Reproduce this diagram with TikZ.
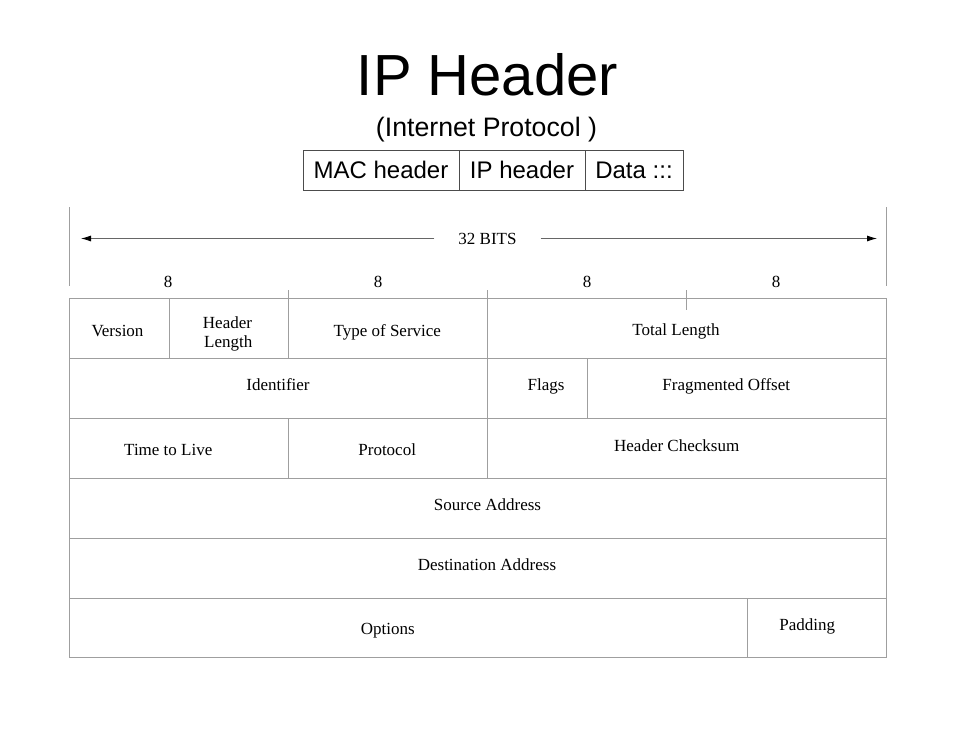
\documentclass[tikz,border=0pt]{standalone}
\usepackage{fontspec}
\setmainfont{Liberation Serif}
\setsansfont{Liberation Sans}
\usepackage{tikz}
\usetikzlibrary{arrows.meta, positioning}

\begin{document}
\begin{tikzpicture}[
                x=1pt, y=-1pt,
                cellline/.style={draw=gray!75, line width=1pt},
                field/.style={anchor=base, inner sep=0pt, font=\fontsize{17}{19}\selectfont},
                frame/.style={rectangle, draw=black!70, line width=1pt, inner sep=0pt, minimum height=40pt, font=\sffamily\fontsize{24}{26}\selectfont},
                bitarrow/.style={-{Latex[length=10pt, width=6pt, black]}, draw=black!60, line width=0.8pt},
                bitlabel/.style={font=\fontsize{17}{19}\selectfont}
                ]
                \useasboundingbox (0,0) rectangle (975,731);

                % Titel
                \node[anchor=base, font=\sffamily\fontsize{58}{62}\selectfont] (title) at (487.5,95) {IP Header};
                \node[anchor=base, font=\sffamily\fontsize{26.7}{29}\selectfont] (subtitle) at (486.5,136) {(Internet Protocol )};

                % Rahmen: MAC / IP / Data
                \node[frame, minimum width=156pt] (mac) at (381,170) {MAC header};
                \node[frame, minimum width=126pt] (iphdr) at (522,170) {IP header};
                \node[frame, minimum width=98pt] (data) at (634,170) {Data :::};

                % 32 Bits Pfeil
                \draw[cellline] (69,207) -- (69,286);
                \draw[cellline] (886,207) -- (886,286);
                \node[bitlabel, inner xsep=24pt, text height=11pt, text depth=0pt] (bits) at (487.5,238.5) {32 BITS};
                \coordinate (bitsL) at (81,238.5);
                \coordinate (bitsR) at (877,238.5);
                \draw[bitarrow] (bits) -- (bitsL);
                \draw[bitarrow] (bits) -- (bitsR);

                % je 8 Bits
                \node[field] (byte1) at (168,287) {8};
                \node[field] (byte2) at (378,287) {8};
                \node[field] (byte3) at (587,287) {8};
                \node[field] (byte4) at (776,287) {8};

                % Tabelle
                \draw[cellline] (69,298) rectangle (886,657);
                \foreach \y in {358,418,478,538,598}
                    \draw[cellline] (69,\y) -- (886,\y);
                \draw[cellline] (169,298) -- (169,358);
                \draw[cellline] (288,290) -- (288,358);
                \draw[cellline] (288,418) -- (288,478);
                \draw[cellline] (487,290) -- (487,478);
                \draw[cellline] (686,290) -- (686,310);
                \draw[cellline] (587,358) -- (587,418);
                \draw[cellline] (747,598) -- (747,657);

                % Zeile 1
                \node[field] (version) at (117.5,336) {Version};
                \node[field] (hlen1) at (227.5,328.5) {Header};
                \node[field] (hlen2) at (228.3,347) {Length};
                \node[field] (tos) at (387.3,336) {Type of Service};
                \node[field] (totlen) at (676,335) {Total Length};

                % Zeile 2
                \node[field] (ident) at (278,390) {Identifier};
                \node[field] (flags) at (546,390) {Flags};
                \node[field] (fragoff) at (726.3,390) {Fragmented Offset};

                % Zeile 3
                \node[field] (ttl) at (168.3,455) {Time to Live};
                \node[field] (proto) at (387.2,455) {Protocol};
                \node[field] (checksum) at (676.7,451) {Header Checksum};

                % Zeile 4 bis 6
                \node[field] (srcaddr) at (487.5,510) {Source Address};
                \node[field] (dstaddr) at (487,570) {Destination Address};
                \node[field] (options) at (387.8,634) {Options};
                \node[field] (padding) at (807.2,630.5) {Padding};

\end{tikzpicture}
\end{document}
